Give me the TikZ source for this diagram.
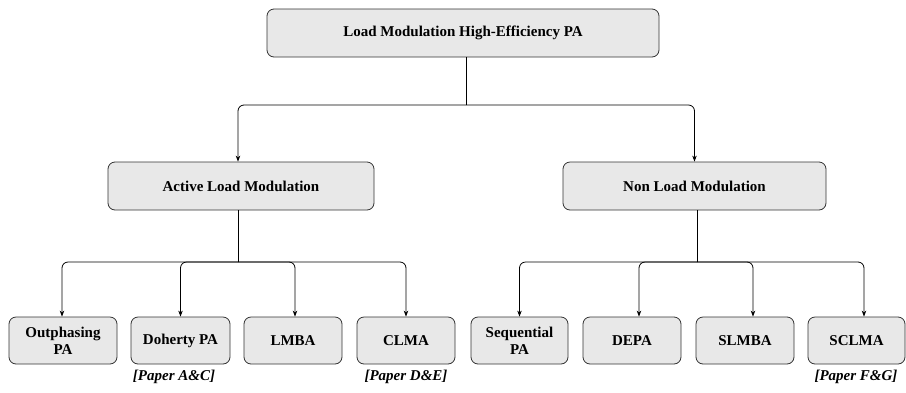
\documentclass[tikz,border=0pt]{standalone}
\usepackage{fontspec}
\setmainfont{Liberation Serif}
\usetikzlibrary{arrows.meta}
\begin{document}
\begin{tikzpicture}[x=1pt,y=-1pt,
  box/.style={draw=black!80,fill=black!9,line width=0.8pt,rounded corners=7pt,
    inner sep=0pt,align=center,font=\fontsize{15}{17}\selectfont\bfseries},
  lbl/.style={font=\fontsize{15}{17}\selectfont\bfseries\itshape,inner sep=0pt},
  conn/.style={draw=black,line width=0.8pt,rounded corners=6pt},
  arr/.style={conn,-{Stealth[length=6pt,width=4.5pt]}}]
\useasboundingbox (0,0) rectangle (906,392);
% nodes
\node[box,minimum width=392pt,minimum height=48pt] (top) at (463,33) {Load Modulation High-Efficiency PA};
\node[box,minimum width=266pt,minimum height=48pt] (alm) at (241,186) {Active Load Modulation};
\node[box,minimum width=263pt,minimum height=48pt] (nlm) at (694.5,186) {Non Load Modulation};
\node[box,minimum width=108pt,minimum height=47pt] (out) at (63,340.5) {Outphasing\\PA};
\node[box,minimum width=99pt,minimum height=47pt] (doh) at (180.5,340.5) {Doherty PA};
\node[box,minimum width=98pt,minimum height=47pt] (lmba) at (293,340.5) {LMBA};
\node[box,minimum width=98pt,minimum height=47pt] (clma) at (406,340.5) {CLMA};
\node[box,minimum width=97pt,minimum height=47pt] (seq) at (519.5,340.5) {Sequential\\PA};
\node[box,minimum width=98pt,minimum height=47pt] (depa) at (632,340.5) {DEPA};
\node[box,minimum width=98pt,minimum height=47pt] (slmba) at (745,340.5) {SLMBA};
\node[box,minimum width=97pt,minimum height=47pt] (sclma) at (856.5,340.5) {SCLMA};
\node[lbl] (pac) at (174,377) {[Paper A\&C]};
\node[lbl] (pde) at (406,377) {[Paper D\&E]};
\node[lbl] (pfg) at (856,377) {[Paper F\&G]};
% junctions
\coordinate (j0) at (466,105);
\coordinate (j1) at (238,262);
\coordinate (j2) at (697,262);
% connectors
\draw[conn] (top.south -| j0) -- (j0);
\draw[arr] (j0) -| ([xshift=-3pt]alm.north);
\draw[arr] (j0) -| (nlm.north);
\draw[conn] (alm.south -| j1) -- (j1);
\draw[arr] (j1) -| ([xshift=-1pt]out.north);
\draw[arr] (j1) -| (doh.north);
\draw[arr] (j1) -| ([xshift=2pt]lmba.north);
\draw[arr] (j1) -| (clma.north);
\draw[conn] (nlm.south -| j2) -- (j2);
\draw[arr] (j2) -| (seq.north);
\draw[arr] (j2) -| ([xshift=7pt]depa.north);
\draw[arr] (j2) -| ([xshift=8pt]slmba.north);
\draw[arr] (j2) -| ([xshift=7.5pt]sclma.north);
\end{tikzpicture}
\end{document}
